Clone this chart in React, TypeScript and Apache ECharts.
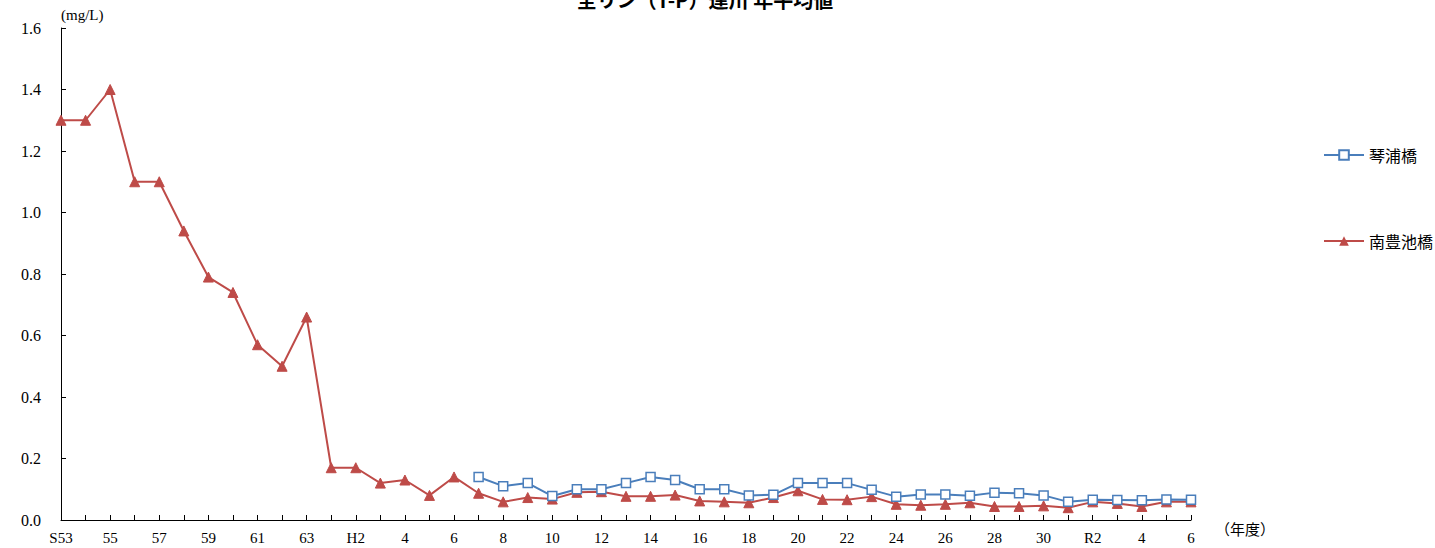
import React, { useEffect, useRef } from "react";
import * as echarts from "echarts";

const categories: string[] = [
  "S53", "54", "55", "56", "57", "58", "59", "60", "61", "62", "63",
  "H1", "H2", "3", "4", "5", "6", "7", "8", "9", "10",
  "11", "12", "13", "14", "15", "16", "17", "18", "19", "20",
  "21", "22", "23", "24", "25", "26", "27", "28", "29", "30",
  "R1", "R2", "3", "4", "5", "6",
];

const kotouraValues: (number | null)[] = [
  null, null, null, null, null, null, null, null, null, null, null,
  null, null, null, null, null, null, 0.14, 0.11, 0.12, 0.078,
  0.1, 0.1, 0.12, 0.14, 0.13, 0.1, 0.1, 0.08, 0.082, 0.12,
  0.12, 0.12, 0.098, 0.076, 0.083, 0.083, 0.079, 0.089, 0.087, 0.08,
  0.059, 0.066, 0.065, 0.064, 0.067, 0.066,
];

const nanhoValues: number[] = [
  1.3, 1.3, 1.4, 1.1, 1.1, 0.94, 0.79, 0.74, 0.57, 0.5, 0.66,
  0.17, 0.17, 0.12, 0.13, 0.08, 0.14, 0.087, 0.059, 0.073, 0.068,
  0.09, 0.092, 0.077, 0.077, 0.081, 0.062, 0.059, 0.056, 0.073, 0.095,
  0.067, 0.066, 0.076, 0.051, 0.048, 0.051, 0.056, 0.044, 0.044, 0.046,
  0.04, 0.059, 0.054, 0.044, 0.059, 0.059,
];

const seriesNames = ["琴浦橋", "南豊池橋"];
const titleText = "全リン（T-P）達川 年平均値";
const yUnit = "(mg/L)";
const xUnit = "（年度）";

const FONT = "'Liberation Serif', 'Noto Sans CJK JP', serif";

export default function App() {
  const ref = useRef<HTMLDivElement>(null);
  useEffect(() => {
    if (!ref.current) return;
    const chart = echarts.init(ref.current, undefined, { renderer: "svg" });
    chart.setOption({
      animation: false,
      backgroundColor: "#ffffff",
      title: {
        text: titleText,
        left: 700,
        textAlign: "center",
        top: -16,
        textStyle: {
          fontFamily: "'Noto Sans CJK JP', sans-serif",
          fontSize: 20,
          fontWeight: "bold",
          color: "#000",
        },
      },
      legend: {
        orient: "vertical",
        left: 1318,
        top: 142,
        itemWidth: 40,
        itemHeight: 12,
        itemGap: 70,
        textStyle: {
          fontFamily: "'Noto Sans CJK JP', sans-serif",
          fontSize: 16,
          color: "#000",
        },
        data: seriesNames,
      },
      grid: { left: 61, right: 244, top: 28, bottom: 28, containLabel: false },
      xAxis: {
        type: "category",
        data: categories,
        boundaryGap: false,
        name: xUnit,
        nameLocation: "end",
        nameGap: 24,
        nameTextStyle: {
          fontFamily: FONT,
          fontSize: 15,
          color: "#000",
          align: "left",
          verticalAlign: "top",
          padding: [2, 0, 0, 0],
        },
        axisLine: { lineStyle: { color: "#000", width: 1 } },
        axisTick: { inside: true, interval: 0, length: 5, lineStyle: { color: "#000" } },
        axisLabel: {
          interval: 1,
          margin: 10,
          fontFamily: FONT,
          fontSize: 15,
          color: "#000",
        },
        splitLine: { show: false },
      },
      yAxis: {
        type: "value",
        min: 0,
        max: 1.6,
        interval: 0.2,
        name: yUnit,
        nameLocation: "end",
        nameGap: 6,
        nameTextStyle: {
          fontFamily: FONT,
          fontSize: 15,
          color: "#000",
          align: "left",
          verticalAlign: "bottom",
        },
        axisLine: { show: true, lineStyle: { color: "#000", width: 1 } },
        axisTick: { show: true, inside: true, length: 5, lineStyle: { color: "#000" } },
        axisLabel: {
          margin: 20,
          fontFamily: FONT,
          fontSize: 16,
          color: "#000",
          formatter: (v: number) => v.toFixed(1),
        },
        splitLine: { show: false },
      },
      series: [
        {
          name: seriesNames[0],
          type: "line",
          data: kotouraValues,
          connectNulls: false,
          symbol: "rect",
          symbolSize: 9,
          lineStyle: { color: "#4A7EBB", width: 2 },
          itemStyle: { color: "#ffffff", borderColor: "#4A7EBB", borderWidth: 1.5 },
          z: 3,
        },
        {
          name: seriesNames[1],
          type: "line",
          data: nanhoValues,
          symbol: "triangle",
          symbolSize: 10,
          lineStyle: { color: "#BE4B48", width: 2 },
          itemStyle: { color: "#BE4B48", borderColor: "#BE4B48" },
          z: 2,
        },
      ],
    });
    return () => chart.dispose();
  }, []);
  return (
    <div
      ref={ref}
      style={{ position: "fixed", left: 0, top: 0, width: 1435, height: 548 }}
    />
  );
}
